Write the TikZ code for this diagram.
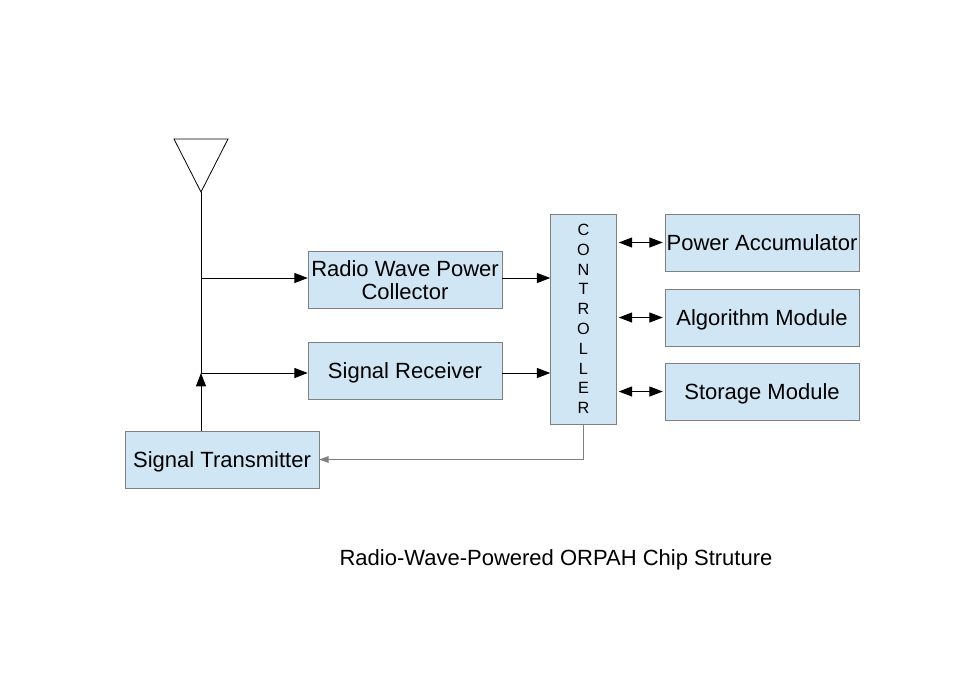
\documentclass[tikz,border=0pt]{standalone}
\usepackage{fontspec}
\setmainfont{Liberation Sans}
\usetikzlibrary{arrows.meta}
\definecolor{boxfill}{RGB}{208,230,245}
\definecolor{boxline}{RGB}{128,128,128}
\begin{document}
\begin{tikzpicture}[x=0.75pt,y=-0.75pt,
		blk/.style={draw=boxline,fill=boxfill,inner sep=0pt,minimum width=145.5pt,minimum height=43pt,align=center,font=\fontsize{16.5}{17.5}\selectfont},
		mod/.style={blk,text depth=0pt},
		arr/.style={-{Triangle[length=10pt,width=7.5pt]},line width=0.75pt},
		darr/.style={{Triangle[length=10pt,width=7.5pt]}-{Triangle[length=10pt,width=7.5pt]},line width=0.75pt}]
		\useasboundingbox (0,0) rectangle (959,678);
		% antenna
		\draw[line width=0.6pt] (174,139) -- (228,139) -- (201,192) -- cycle;
		\coordinate (ant) at (201,192);
		\coordinate (j1) at (201,278);
		\coordinate (j2) at (201,373);
		% blocks
		\node[mod] (rwpc) at (405,280) {Radio Wave Power\\Collector};
		\node[mod] (recv) at (405,371) {Signal Receiver};
		\node[mod] (trans) at (222,459.5) {Signal Transmitter};
		\node[blk,minimum width=49.5pt,minimum height=157.5pt,font=\fontsize{12.2}{14.85}\selectfont] (ctrl) at (583.5,319) {C\\O\\N\\T\\R\\O\\L\\L\\E\\R};
		\node[mod] (accu) at (762,242.5) {Power Accumulator};
		\node[mod] (algo) at (762,317.5) {Algorithm Module};
		\node[mod] (stor) at (762,391.5) {Storage Module};
		\node[font=\fontsize{16.5}{17.5}\selectfont] (title) at (556,560) {Radio-Wave-Powered ORPAH Chip Struture};
		% wires
		\draw[line width=0.75pt] (ant) -- (j2);
		\draw[arr] (trans.north -| ant) -- (j2);
		\draw[arr] (j1) -- (j1 -| rwpc.west);
		\draw[arr] (j2) -- (j2 -| recv.west);
		\draw[arr] (rwpc.east |- j1) -- (j1 -| ctrl.west);
		\draw[arr] (recv.east |- j2) -- (j2 -| ctrl.west);
		\draw[darr,shorten <=1.5pt,shorten >=1.5pt] (ctrl.east |- accu) -- (accu.west);
		\draw[darr,shorten <=1.5pt,shorten >=1.5pt] (ctrl.east |- algo) -- (algo.west);
		\draw[darr,shorten <=1.5pt,shorten >=1.5pt] (ctrl.east |- stor) -- (stor.west);
		\draw[boxline,line width=0.6pt,-{Triangle[length=7pt,width=5pt]}] (ctrl.south) |- (trans.east);
	\end{tikzpicture}
\end{document}
